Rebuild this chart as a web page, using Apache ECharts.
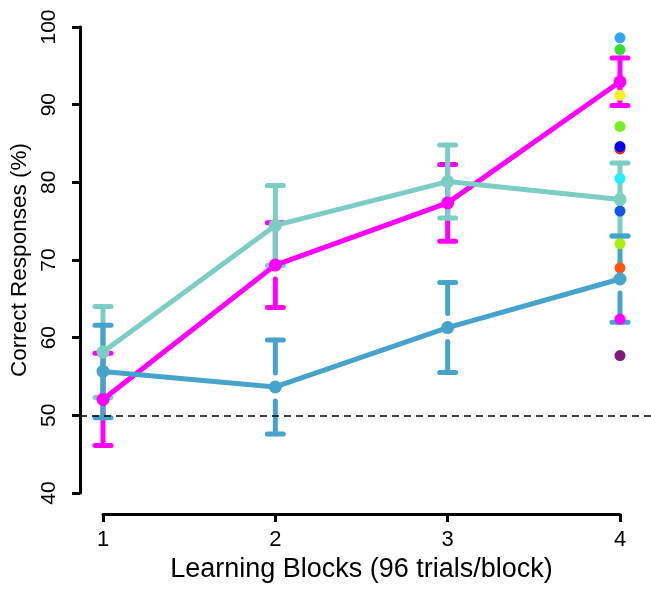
<!DOCTYPE html>
<html><head><meta charset="utf-8">
<script src="https://cdn.jsdelivr.net/npm/echarts@6/dist/echarts.min.js"></script>
<style>html,body{margin:0;padding:0;background:#fff}#c{width:651px;height:589px}</style>
</head><body><div id="c"></div>
<script>
// ---- data ----
const blocks = [1, 2, 3, 4];
const xTicks = ['1', '2', '3', '4'];
const yTicks = [40, 50, 60, 70, 80, 90, 100];
const pinkMean = [52.05, 69.35, 77.35, 92.95];
const pinkErr  = [5.95, 5.45, 4.95, 3.05];
const tealMean = [58.15, 74.45, 80.1, 77.8];
const tealErr  = [5.85, 5.15, 4.7, 4.7];
const blueMean = [55.65, 53.65, 61.3, 67.55];
const blueErr  = [5.95, 6.05, 5.8, 5.55];
const chanceLevel = 50;
const indivBlock = 4;
const indivValues = [98.6, 97.1, 91.2, 87.2, 84.3, 84.6, 80.5, 76.3, 72.1, 69.0, 62.4, 57.7];
const indivColors = ['#2EA6F5', '#33DD33', '#FFEE22', '#77EE22', '#FF2222', '#0000EE', '#22EEFF', '#1155EE', '#AAEE11', '#FF5511', '#FF00FF', '#7A1A7A'];
// ---- styles ----
const PINK = '#FF00FF', TEAL = '#7CCDC3', BLUE = '#46A4CC';
const pinkGapUp = [0, 0, 0, 0], pinkGapDown = [0, 14, 0, 0];
const tealGapUp = [0, 0, 0, 0], tealGapDown = [0, 0, 0, 0];
const blueGapUp = [0, 14, 14, 0], blueGapDown = [0, 14, 14, 14];
const FONT = '"Liberation Sans", Arial, sans-serif';

function errData(mean, err, gu, gd) {
  return blocks.map((b, i) => [b, mean[i], err[i], gu[i], gd[i]]);
}
function errSeries(name, mean, err, gu, gd, color, z) {
  return {
    type: 'custom', name, xAxisIndex: 0, yAxisIndex: 0, z,
    data: errData(mean, err, gu, gd),
    renderItem(params, api) {
      const x = api.value(0), m = api.value(1), e = api.value(2), g1 = api.value(3), g2 = api.value(4);
      const c = api.coord([x, m]), t = api.coord([x, m + e]), b = api.coord([x, m - e]);
      const hw = 8;
      const st = { stroke: color, lineWidth: 5, lineCap: 'round' };
      const kids = [
        { type: 'line', shape: { x1: t[0], y1: t[1], x2: c[0], y2: c[1] - g1 }, style: st },
        { type: 'line', shape: { x1: c[0], y1: c[1] + g2, x2: b[0], y2: b[1] }, style: st },
        { type: 'line', shape: { x1: t[0] - hw, y1: t[1], x2: t[0] + hw, y2: t[1] }, style: st },
        { type: 'line', shape: { x1: b[0] - hw, y1: b[1], x2: b[0] + hw, y2: b[1] }, style: st }
      ];
      return { type: 'group', children: kids };
    }
  };
}
function lineSeries(name, mean, color, z) {
  return {
    type: 'line', name, xAxisIndex: 0, yAxisIndex: 0, z,
    data: blocks.map((b, i) => [b, mean[i]]),
    symbol: 'circle', symbolSize: 13, showSymbol: true,
    lineStyle: { color, width: 5 }, itemStyle: { color },
    animation: false
  };
}

const chart = echarts.init(document.getElementById('c'));
chart.setOption({
  animation: false,
  backgroundColor: '#fff',
  grid: [
    { left: 80, right: 0, top: 27, bottom: 96 },
    { left: 103, right: 31, top: 513, height: 1 }
  ],
  xAxis: [
    { gridIndex: 0, type: 'value', min: 1 - 23 / 172.33, max: 4 + 31 / 172.33,
      show: false, splitLine: { show: false } },
    { gridIndex: 1, type: 'value', min: 1, max: 4, interval: 1, position: 'bottom',
      axisLine: { show: true, lineStyle: { color: '#000', width: 3 } },
      axisTick: { show: true, length: 8, lineStyle: { color: '#000', width: 3 } },
      splitLine: { show: false },
      axisLabel: { margin: 15, fontSize: 22, color: '#000', fontFamily: FONT,
        formatter: v => xTicks[blocks.indexOf(v)] || '' },
      name: 'Learning Blocks (96 trials/block)', nameLocation: 'middle', nameGap: 42,
      nameTextStyle: { fontSize: 27, color: '#000', fontFamily: FONT } }
  ],
  yAxis: [
    { gridIndex: 0, type: 'value', min: yTicks[0], max: yTicks[yTicks.length - 1], interval: 10,
      axisLine: { show: true, lineStyle: { color: '#000', width: 3 } },
      axisTick: { show: true, length: 8, lineStyle: { color: '#000', width: 3 } },
      splitLine: { show: false },
      axisLabel: { rotate: 90, margin: 20, fontSize: 21, color: '#000', fontFamily: FONT },
      name: 'Correct Responses (%)', nameLocation: 'middle', nameGap: 47, nameRotate: 90,
      nameTextStyle: { fontSize: 22.5, color: '#000', fontFamily: FONT } },
    { gridIndex: 1, type: 'value', show: false, min: 0, max: 1 }
  ],
  series: [
    errSeries('pinkErr', pinkMean, pinkErr, pinkGapUp, pinkGapDown, PINK, 2),
    errSeries('tealErr', tealMean, tealErr, tealGapUp, tealGapDown, TEAL, 3),
    errSeries('blueErr', blueMean, blueErr, blueGapUp, blueGapDown, BLUE, 4),
    {
      type: 'scatter', name: 'individual', xAxisIndex: 0, yAxisIndex: 0, z: 5,
      symbolSize: 11,
      data: indivValues.map((v, i) => ({ value: [indivBlock, v], itemStyle: { color: indivColors[i], opacity: 1 } }))
    },
    Object.assign(lineSeries('pink', pinkMean, PINK, 6), {
      markLine: { silent: true, symbol: 'none', label: { show: false },
        lineStyle: { color: '#000', type: [7, 5], width: 1.5 },
        data: [{ yAxis: chanceLevel }] }
    }),
    lineSeries('teal', tealMean, TEAL, 7),
    lineSeries('blue', blueMean, BLUE, 8)
  ]
});
</script></body></html>
